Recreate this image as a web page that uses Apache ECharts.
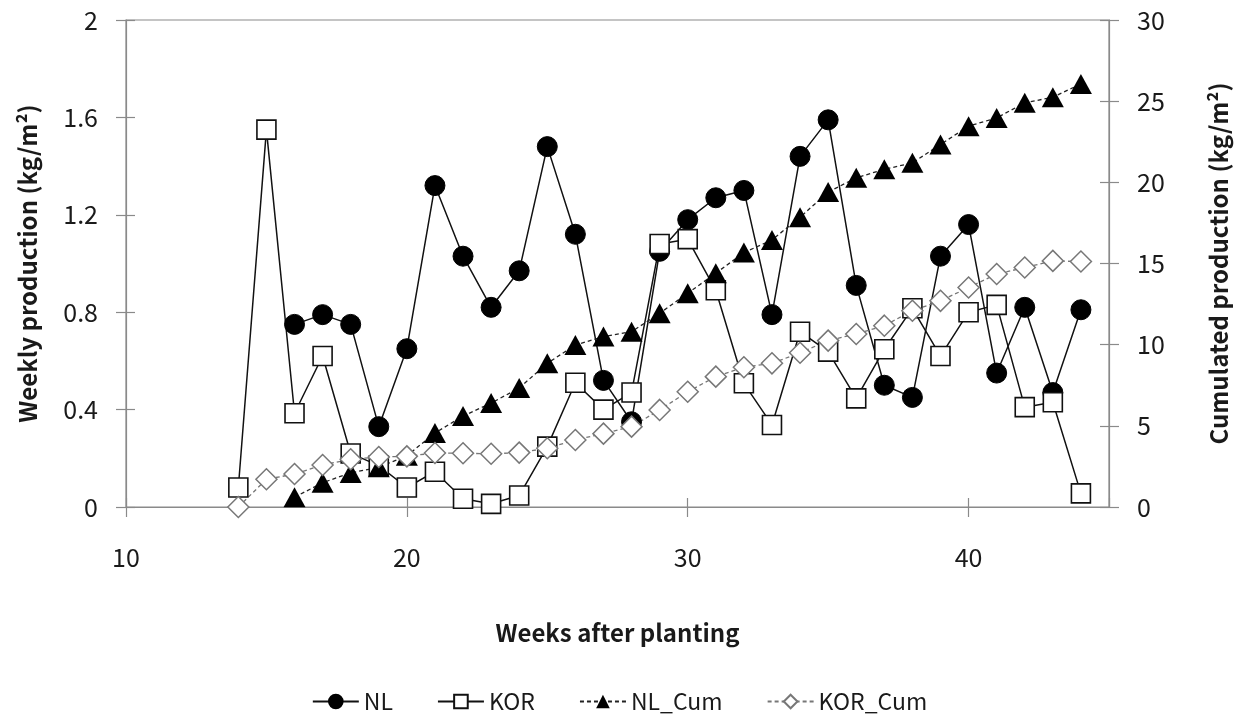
<!DOCTYPE html>
<html>
<head>
<meta charset="utf-8">
<script src="https://cdn.jsdelivr.net/npm/echarts@6/dist/echarts.min.js"></script>
<style>
  html, body { margin: 0; padding: 0; background: #fff; }
  #chart { width: 1239px; height: 723px; }
</style>
</head>
<body>
<div id="chart"></div>
<script>
// Weeks after planting (x values)
const weeks = [14, 15, 16, 17, 18, 19, 20, 21, 22, 23, 24, 25, 26, 27, 28, 29,
               30, 31, 32, 33, 34, 35, 36, 37, 38, 39, 40, 41, 42, 43, 44];

// Weekly production, kg/m2 (left axis)
const nlWeekly  = [null, null, 0.75, 0.79, 0.75, 0.33, 0.65, 1.32, 1.03, 0.82, 0.97, 1.48, 1.12, 0.52, 0.35, 1.05,
                   1.18, 1.27, 1.30, 0.79, 1.44, 1.59, 0.91, 0.50, 0.45, 1.03, 1.16, 0.55, 0.82, 0.47, 0.81];
const korWeekly = [0.08, 1.55, 0.385, 0.62, 0.22, 0.17, 0.08, 0.145, 0.034, 0.013, 0.047, 0.248, 0.51, 0.40, 0.47, 1.08,
                   1.10, 0.89, 0.508, 0.337, 0.72, 0.638, 0.446, 0.648, 0.816, 0.62, 0.80, 0.83, 0.41, 0.43, 0.056];

// Cumulated production, kg/m2 (right axis)
const nlCum  = [null, null, 0.6, 1.5, 2.1, 2.45, 3.15, 4.56, 5.6, 6.4, 7.33, 8.85, 9.98, 10.5, 10.8, 11.93,
                13.17, 14.4, 15.67, 16.45, 17.85, 19.4, 20.28, 20.8, 21.2, 22.33, 23.46, 23.97, 24.9, 25.24, 26.06];
const korCum = [0.0, 1.71, 2.03, 2.59, 2.94, 3.08, 3.12, 3.33, 3.31, 3.28, 3.35, 3.62, 4.13, 4.52, 4.95, 5.98,
                7.1, 8.03, 8.61, 8.85, 9.5, 10.25, 10.66, 11.17, 12.09, 12.7, 13.52, 14.35, 14.75, 15.16, 15.12];

// Axis ticks
const xTicks = { min: 10, max: 45, interval: 10 };
const leftTicks = { min: 0, max: 2, interval: 0.4 };
const rightTicks = { min: 0, max: 30, interval: 5 };

const FONT = '"Noto Sans CJK KR", "Noto Sans", sans-serif';
const TXT = '#1a1a1a';
const AXIS = '#8a8a8a';

function pairs(vals) {
  return weeks.map((w, i) => [w, vals[i]]).filter(p => p[1] !== null);
}

// helper: an axis copy carrying only inward ticks so the ticks cross the axis line
function innerTickAxis(base) {
  return Object.assign({}, base, {
    name: '',
    axisLine: { show: false },
    axisLabel: { show: false },
    axisTick: { show: true, inside: true, length: 9, lineStyle: { color: AXIS, width: 1.2 } },
    splitLine: { show: false }
  });
}

const xBase = {
  type: 'value', position: 'bottom',
  min: xTicks.min, max: xTicks.max, interval: xTicks.interval
};
const yLeftBase = {
  type: 'value', position: 'left',
  min: leftTicks.min, max: leftTicks.max, interval: leftTicks.interval
};
const yRightBase = {
  type: 'value', position: 'right',
  min: rightTicks.min, max: rightTicks.max, interval: rightTicks.interval
};

const chart = echarts.init(document.getElementById('chart'), null, { renderer: 'canvas' });

chart.setOption({
  backgroundColor: '#ffffff',
  animation: false,
  textStyle: { fontFamily: FONT, color: TXT },
  grid: {
    left: 126, right: 127, top: 20, bottom: 216,
    show: true, borderColor: AXIS, borderWidth: 1.2, backgroundColor: 'transparent'
  },
  legend: {
    bottom: 5, left: 'center',
    itemWidth: 46, itemHeight: 17, itemGap: 44,
    textStyle: { fontFamily: FONT, fontSize: 23, color: TXT },
    data: ['NL', 'KOR', 'NL_Cum', 'KOR_Cum']
  },
  xAxis: [
    Object.assign({}, xBase, {
      name: 'Weeks after planting',
      nameLocation: 'middle', nameGap: 114,
      nameTextStyle: { fontFamily: FONT, fontSize: 24, fontWeight: 'bold', color: TXT },
      axisLine: { show: true, lineStyle: { color: AXIS, width: 1.2 } },
      axisTick: { show: true, length: 10, lineStyle: { color: AXIS, width: 1.2 } },
      axisLabel: { show: true, margin: 38, fontSize: 25, color: TXT, fontFamily: FONT, showMaxLabel: false },
      splitLine: { show: false }
    }),
    innerTickAxis(xBase)
  ],
  yAxis: [
    Object.assign({}, yLeftBase, {
      name: 'Weekly production (kg/m²)',
      nameLocation: 'middle', nameGap: 86, nameRotate: 90,
      nameTextStyle: { fontFamily: FONT, fontSize: 24, fontWeight: 'bold', color: TXT },
      axisLine: { show: true, lineStyle: { color: AXIS, width: 1.2 } },
      axisTick: { show: true, length: 10, lineStyle: { color: AXIS, width: 1.2 } },
      axisLabel: { show: true, margin: 28, fontSize: 25, color: TXT, fontFamily: FONT },
      splitLine: { show: false }
    }),
    Object.assign({}, yRightBase, {
      name: 'Cumulated production (kg/m²)',
      nameLocation: 'middle', nameGap: 98, nameRotate: 90,
      nameTextStyle: { fontFamily: FONT, fontSize: 24, fontWeight: 'bold', color: TXT },
      axisLine: { show: true, lineStyle: { color: AXIS, width: 1.2 } },
      axisTick: { show: true, length: 10, lineStyle: { color: AXIS, width: 1.2 } },
      axisLabel: { show: true, margin: 28, fontSize: 25, color: TXT, fontFamily: FONT },
      splitLine: { show: false }
    }),
    innerTickAxis(yLeftBase),
    innerTickAxis(yRightBase)
  ],
  series: [
    {
      name: 'NL', type: 'line', xAxisIndex: 0, yAxisIndex: 0,
      data: pairs(nlWeekly),
      symbol: 'circle', symbolSize: 20,
      lineStyle: { color: '#111', width: 1.5 },
      itemStyle: { color: '#000', borderColor: '#000', borderWidth: 1 }
    },
    {
      name: 'KOR', type: 'line', xAxisIndex: 0, yAxisIndex: 0,
      data: pairs(korWeekly),
      symbol: 'rect', symbolSize: 19,
      lineStyle: { color: '#111', width: 1.5 },
      itemStyle: { color: '#fff', borderColor: '#111', borderWidth: 1.6 }
    },
    {
      name: 'NL_Cum', type: 'line', xAxisIndex: 0, yAxisIndex: 1,
      data: pairs(nlCum),
      symbol: 'triangle', symbolSize: [22, 20],
      lineStyle: { color: '#222', width: 1.3, type: [4, 3] },
      itemStyle: { color: '#000', borderColor: '#000', borderWidth: 0 }
    },
    {
      name: 'KOR_Cum', type: 'line', xAxisIndex: 0, yAxisIndex: 1,
      data: pairs(korCum),
      symbol: 'diamond', symbolSize: [21, 21],
      lineStyle: { color: '#777', width: 1.3, type: [4, 3] },
      itemStyle: { color: '#fff', borderColor: '#777', borderWidth: 1.5 }
    }
  ]
});
</script>
</body>
</html>
